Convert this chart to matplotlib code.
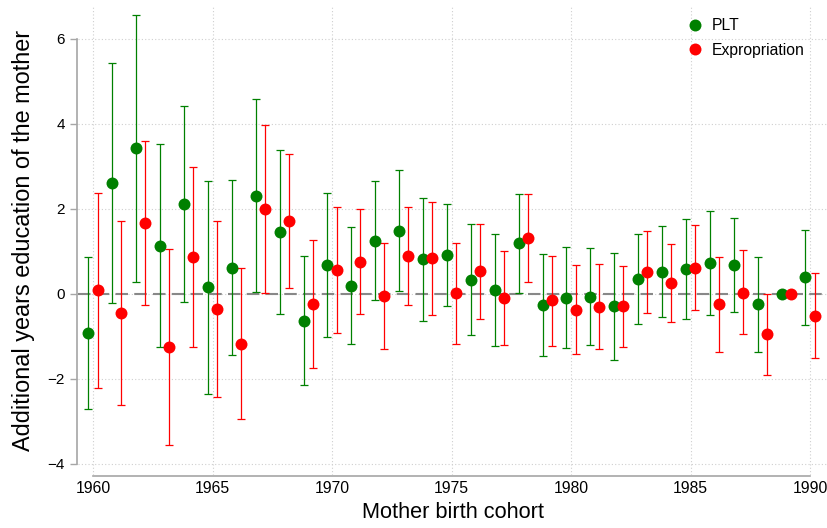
import matplotlib
matplotlib.use("Agg")
from matplotlib import pyplot as plt
from matplotlib.lines import Line2D
import numpy as np

## Cohort estimates with 95% confidence bounds ##
cohorts = np.arange(1960, 1991)

plt_est = [-0.93, 2.60, 3.42, 1.13, 2.10, 0.15, 0.60, 2.31, 1.45, -0.64,
           0.67, 0.19, 1.25, 1.48, 0.81, 0.91, 0.33, 0.08, 1.19, -0.27,
           -0.10, -0.07, -0.30, 0.35, 0.52, 0.59, 0.72, 0.68, -0.25, 0.00,
           0.39]
plt_lo = [-2.71, -0.22, 0.28, -1.26, -0.20, -2.35, -1.45, 0.04, -0.48, -2.16,
          -1.03, -1.19, -0.15, 0.06, -0.64, -0.30, -0.98, -1.22, 0.02, -1.47,
          -1.28, -1.21, -1.57, -0.72, -0.56, -0.59, -0.49, -0.42, -1.38, 0.00,
          -0.73]
plt_hi = [0.86, 5.42, 6.56, 3.52, 4.42, 2.64, 2.67, 4.57, 3.38, 0.89,
          2.38, 1.57, 2.64, 2.90, 2.26, 2.12, 1.64, 1.40, 2.35, 0.94,
          1.09, 1.07, 0.96, 1.41, 1.60, 1.76, 1.94, 1.79, 0.87, 0.00,
          1.51]

exp_est = [0.08, -0.45, 1.66, -1.25, 0.86, -0.36, -1.18, 2.00, 1.71, -0.25,
           0.56, 0.75, -0.06, 0.89, 0.83, 0.01, 0.53, -0.10, 1.32, -0.16,
           -0.38, -0.31, -0.30, 0.50, 0.26, 0.61, -0.25, 0.02, -0.96, 0.00,
           -0.52]
exp_lo = [-2.21, -2.62, -0.27, -3.55, -1.26, -2.43, -2.95, 0.02, 0.13, -1.76,
          -0.93, -0.48, -1.29, -0.27, -0.49, -1.19, -0.59, -1.20, 0.28, -1.23,
          -1.42, -1.30, -1.25, -0.46, -0.66, -0.39, -1.37, -0.96, -1.92, 0.00,
          -1.51]
exp_hi = [2.36, 1.71, 3.59, 1.04, 2.99, 1.72, 0.61, 3.98, 3.29, 1.26,
          2.05, 1.99, 1.19, 2.04, 2.16, 1.20, 1.65, 1.00, 2.35, 0.89,
          0.67, 0.71, 0.64, 1.47, 1.18, 1.62, 0.86, 1.02, -0.01, 0.00,
          0.48]

GREEN = "#008000"
RED = "#ff0000"
GRAY = "#a6a6a6"
FONT = "Liberation Sans"

plt.rcParams["font.family"] = FONT

fig = plt.figure(figsize=(8.27, 5.28), dpi=100)
ax = fig.add_axes([78 / 827, 53 / 528, 749 / 827, 470 / 528])


def draw_series(x, est, lo, hi, color, label):
    est = np.asarray(est)
    err = np.vstack([est - np.asarray(lo), np.asarray(hi) - est])
    ax.errorbar(x, est, yerr=err, fmt="none", ecolor=color, elinewidth=0.9,
                capsize=3.0, capthick=0.9, zorder=3)
    ax.plot(x, est, "o", color=color, markersize=8.6, markeredgewidth=0,
            zorder=4, label=label)


draw_series(cohorts - 0.19, plt_est, plt_lo, plt_hi, GREEN, "PLT")
draw_series(cohorts + 0.19, exp_est, exp_lo, exp_hi, RED, "Expropriation")

# reference line at zero
ax.axhline(0, color="#888888", lw=1.5, ls=(0, (6, 3)), zorder=2)

ax.set_xlim(1959.372, 1990.711)
ax.set_ylim(-4.266, 6.793)
ax.set_xticks(np.arange(1960, 1991, 5))
ax.set_yticks(np.arange(-4, 7, 2))
ax.grid(True, color="#cfcfcf", ls=(0, (1, 2)), lw=0.8, zorder=0)

for side in ["top", "right"]:
    ax.spines[side].set_visible(False)
ax.spines["left"].set_position(("outward", 1))
ax.spines["left"].set_bounds(-4, 6)
ax.spines["bottom"].set_position(("outward", 1))
ax.spines["bottom"].set_bounds(1960, 1990)
for side in ["left", "bottom"]:
    ax.spines[side].set_color(GRAY)
    ax.spines[side].set_linewidth(1.2)

ax.tick_params(axis="y", length=5, width=1.0, color=GRAY, pad=3.6,
               labelsize=11)
ax.tick_params(axis="x", length=0, pad=3, labelsize=11.3)

ax.set_xlabel("Mother birth cohort", fontsize=15.7, labelpad=5)
ax.set_ylabel("Additional years education of the mother", fontsize=16.9,
              labelpad=9)

handles = [Line2D([], [], ls="none", marker="o", color=GREEN, markersize=8.6,
                  markeredgewidth=0),
           Line2D([], [], ls="none", marker="o", color=RED, markersize=8.6,
                  markeredgewidth=0)]
fig.legend(handles, ["PLT", "Expropriation"], loc="upper left",
           bbox_to_anchor=(687 / 827, 1 - 18 / 528), frameon=False,
           fontsize=11.3, handlelength=1.0, handletextpad=0.6,
           labelspacing=0.62, borderpad=0, borderaxespad=0)

fig.savefig("out.png", dpi=100)
